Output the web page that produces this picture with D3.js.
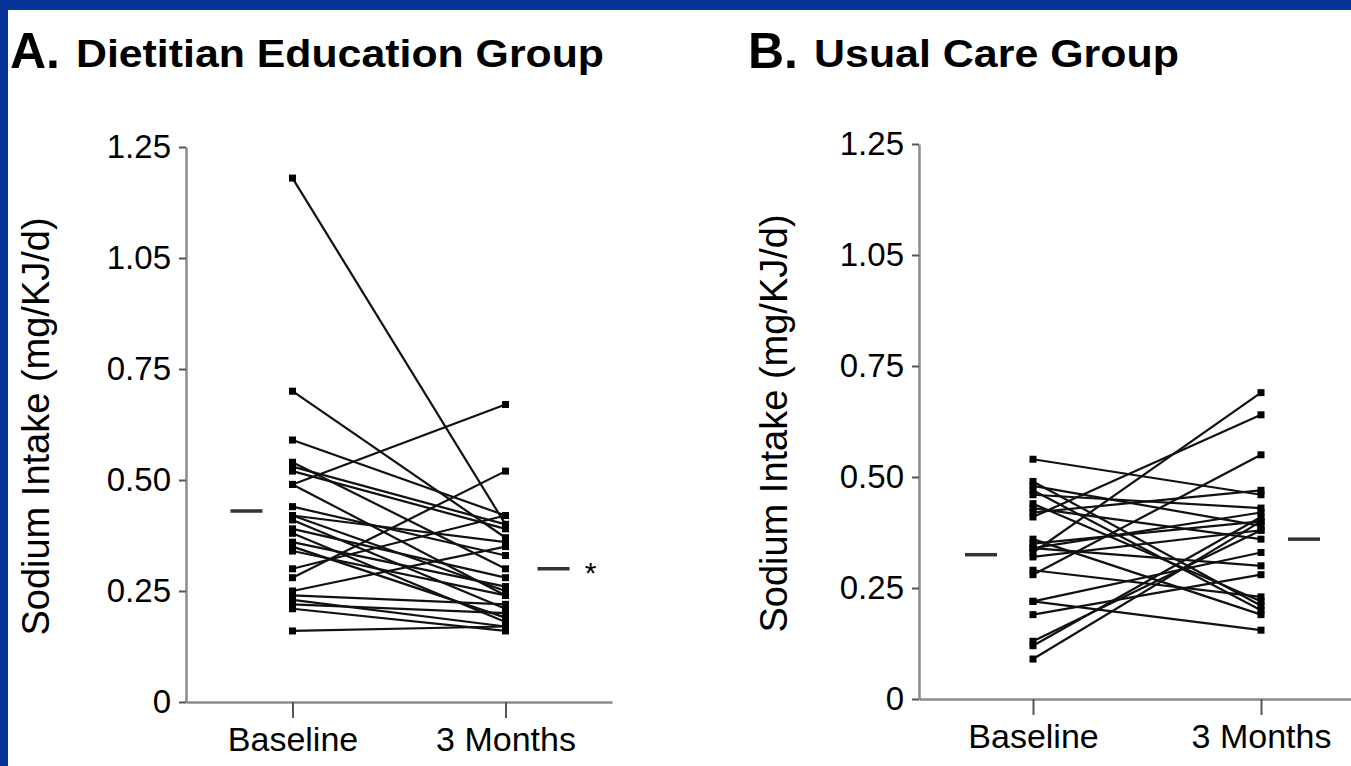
<!DOCTYPE html>
<html>
<head>
<meta charset="utf-8">
<script src="https://cdn.jsdelivr.net/npm/d3@7"></script>
<style>
  html, body { margin: 0; padding: 0; background: #fff; }
  svg { display: block; }
  text { font-family: "Liberation Sans", Arial, Helvetica, sans-serif; fill: #000; }
</style>
</head>
<body>
<div id="chart"></div>
<script>
// categories and ticks
var timePoints = ["Baseline", "3 Months"];
var yTickValues = [0, 0.25, 0.5, 0.75, 1.0, 1.25];
var yTickLabels = ["0", "0.25", "0.50", "0.75", "1.05", "1.25"];

// A. dietitian education group, one value per subject
var dietBaseline = [1.18, 0.70, 0.59, 0.54, 0.53, 0.52, 0.49, 0.49, 0.44, 0.42, 0.42, 0.41, 0.39,
                    0.38, 0.36, 0.35, 0.34, 0.30, 0.28, 0.25, 0.24, 0.23, 0.22, 0.21, 0.16];
var dietMonth3   = [0.40, 0.37, 0.42, 0.30, 0.40, 0.39, 0.67, 0.24, 0.33, 0.25, 0.36, 0.21, 0.28,
                    0.18, 0.26, 0.19, 0.24, 0.42, 0.52, 0.35, 0.22, 0.17, 0.20, 0.16, 0.17];
var dietMeans = [0.43, 0.30];

// B. usual care group
var usualBaseline = [0.54, 0.49, 0.48, 0.47, 0.46, 0.44, 0.43, 0.42, 0.41, 0.36, 0.35, 0.34,
                     0.34, 0.33, 0.32, 0.29, 0.28, 0.22, 0.22, 0.19, 0.13, 0.12, 0.09];
var usualMonth3   = [0.46, 0.21, 0.39, 0.20, 0.43, 0.22, 0.36, 0.47, 0.64, 0.19, 0.40, 0.42,
                     0.30, 0.69, 0.38, 0.23, 0.55, 0.155, 0.33, 0.28, 0.38, 0.41, 0.40];
var usualMeans = [0.325, 0.36];

var W = 1351, H = 766;
var svg = d3.select("#chart").append("svg")
    .attr("width", W)
    .attr("height", H);

svg.append("rect").attr("width", W).attr("height", H).attr("fill", "#fff");
// blue frame (top and left)
svg.append("rect").attr("x", 0).attr("y", 0).attr("width", W).attr("height", 10).attr("fill", "#05339a");
svg.append("rect").attr("x", 0).attr("y", 0).attr("width", 8).attr("height", H).attr("fill", "#05339a");

function panel(opt) {
    var g = svg.append("g");

    var x = d3.scalePoint()
        .domain(timePoints)
        .range([opt.left, opt.right])
        .padding(0.5);

    var y = d3.scaleLinear()
        .domain([0, 1.25])
        .range([opt.bottom, opt.top]);

    // axes
    var yAxis = d3.axisLeft(y)
        .tickValues(yTickValues)
        .tickSize(7)
        .tickSizeOuter(0)
        .tickPadding(8)
        .tickFormat(function(d, i) { return yTickLabels[i]; });

    var xAxis = d3.axisBottom(x)
        .tickSize(16)
        .tickSizeOuter(0)
        .tickPadding(9);

    var gy = g.append("g")
        .attr("transform", "translate(" + opt.left + ",0)")
        .call(yAxis);

    var gx = g.append("g")
        .attr("transform", "translate(0," + opt.bottom + ")")
        .call(xAxis);

    [gx, gy].forEach(function(a) {
        a.select(".domain").attr("stroke", "#8c8c8c").attr("stroke-width", 2.5);
        a.selectAll(".tick line").attr("stroke", "#555").attr("stroke-width", 2);
        a.selectAll(".tick text")
            .attr("font-size", 33)
            .attr("font-family", "Liberation Sans, Arial, sans-serif")
            .attr("fill", "#000");
    });
    gx.selectAll(".tick text").attr("font-size", 34);

    // paired lines
    var pairs = opt.base.map(function(d, i) { return [d, opt.month[i]]; });

    g.selectAll(".subject")
        .data(pairs)
        .enter()
        .append("line")
        .attr("class", "subject")
        .attr("x1", x(timePoints[0]))
        .attr("x2", x(timePoints[1]))
        .attr("y1", function(d) { return y(d[0]); })
        .attr("y2", function(d) { return y(d[1]); })
        .attr("stroke", "#111")
        .attr("stroke-width", 2.2);

    var dots = [];
    pairs.forEach(function(d) {
        dots.push({t: timePoints[0], v: d[0]});
        dots.push({t: timePoints[1], v: d[1]});
    });
    g.selectAll(".dot")
        .data(dots)
        .enter()
        .append("rect")
        .attr("class", "dot")
        .attr("x", function(d) { return x(d.t) - 3.5; })
        .attr("y", function(d) { return y(d.v) - 3.5; })
        .attr("width", 7)
        .attr("height", 7)
        .attr("fill", "#000");

    // group means
    g.selectAll(".mean")
        .data(opt.means)
        .enter()
        .append("line")
        .attr("class", "mean")
        .attr("x1", function(d, i) { return x(timePoints[i]) + opt.meanOff[i] - 16; })
        .attr("x2", function(d, i) { return x(timePoints[i]) + opt.meanOff[i] + 16; })
        .attr("y1", function(d) { return y(d); })
        .attr("y2", function(d) { return y(d); })
        .attr("stroke", "#333")
        .attr("stroke-width", 3.5);

    if (opt.star) {
        g.append("text")
            .attr("x", x(timePoints[1]) + opt.meanOff[1] + 37)
            .attr("y", y(opt.means[1]) + 14)
            .attr("text-anchor", "middle")
            .attr("font-size", 30)
            .text("*");
    }

    // axis title
    g.append("text")
        .attr("transform", "translate(" + opt.titleX + "," + ((opt.top + opt.bottom) / 2 + 2) + ") rotate(-90)")
        .attr("text-anchor", "middle")
        .attr("font-size", 38)
        .text("Sodium Intake (mg/KJ/d)");

    // panel heading
    g.append("text")
        .attr("x", opt.headX)
        .attr("y", 68)
        .attr("font-size", 50)
        .attr("font-weight", "bold")
        .text(opt.letter);
    g.append("text")
        .attr("x", opt.headX + 66)
        .attr("y", 67)
        .attr("font-size", 39)
        .attr("font-weight", "bold")
        .attr("textLength", opt.headLen)
        .attr("lengthAdjust", "spacingAndGlyphs")
        .text(opt.heading);
}

panel({
    left: 186, right: 612, top: 147, bottom: 702,
    base: dietBaseline, month: dietMonth3, means: dietMeans,
    meanOff: [-46, 48], star: true,
    titleX: 49, headX: 10, letter: "A.", heading: "Dietitian Education Group", headLen: 528
});

panel({
    left: 919, right: 1375, top: 144, bottom: 699,
    base: usualBaseline, month: usualMonth3, means: usualMeans,
    meanOff: [-52, 43], star: false,
    titleX: 787, headX: 748, letter: "B.", heading: "Usual Care Group", headLen: 365
});
</script>
</body>
</html>
